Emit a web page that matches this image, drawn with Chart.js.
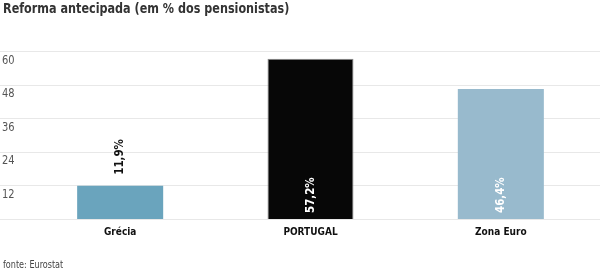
<!DOCTYPE html>
<html>
<head>
<meta charset="utf-8">
<script src="https://cdn.jsdelivr.net/npm/chart.js@4"></script>
<style>
html,body{margin:0;padding:0;background:#fff;}
#wrap{position:relative;width:600px;height:271px;}
</style>
</head>
<body>
<div id="wrap"><canvas id="c" width="600" height="271"></canvas></div>
<script>
const TITLE = "Reforma antecipada (em % dos pensionistas)";
const SOURCE = "fonte: Eurostat";
const categories = ["Grécia", "PORTUGAL", "Zona Euro"];
const values = [11.9, 57.2, 46.4];
const valueLabels = ["11,9%", "57,2%", "46,4%"];
const yTicks = [0, 12, 24, 36, 48, 60];
const colors = ["#6aa4bd", "#070707", "#98bacd"];

const FONT = "'DejaVu Sans Condensed', 'DejaVu Sans', sans-serif";

const custom = {
  id: 'custom',
  beforeDatasetsDraw(chart) {
    const ctx = chart.ctx;
    const y = chart.scales.y;
    ctx.save();
    ctx.strokeStyle = '#e8e8e8';
    ctx.lineWidth = 1;
    yTicks.forEach(v => {
      const py = Math.round(y.getPixelForValue(v)) + 0.5;
      ctx.beginPath();
      ctx.moveTo(0, py);
      ctx.lineTo(chart.width, py);
      ctx.stroke();
    });
    ctx.fillStyle = '#555';
    ctx.font = "12.5px " + FONT;
    ctx.textAlign = 'left';
    ctx.textBaseline = 'top';
    yTicks.forEach(v => {
      if (v === 0) return;
      const py = y.getPixelForValue(v);
      ctx.save();
      ctx.translate(2, py + 3);
      ctx.scale(0.88, 1);
      ctx.fillText(String(v), 0, 0);
      ctx.restore();
    });
    ctx.restore();
  },
  afterDatasetsDraw(chart) {
    const ctx = chart.ctx;
    const meta = chart.getDatasetMeta(0);
    ctx.save();
    ctx.font = "bold 12px " + FONT;
    meta.data.forEach((bar, i) => {
      const txt = valueLabels[i];
      const w = ctx.measureText(txt).width;
      const h = bar.base - bar.y;
      let startY, color;
      if (h > w + 16) {
        startY = bar.base - 6;
        color = '#ffffff';
      } else {
        startY = bar.y - 11;
        color = '#111111';
      }
      ctx.save();
      ctx.translate(bar.x, startY);
      ctx.rotate(-Math.PI / 2);
      ctx.scale(0.95, 1);
      ctx.fillStyle = color;
      ctx.textAlign = 'left';
      ctx.textBaseline = 'middle';
      ctx.fillText(txt, 0, 0);
      ctx.restore();
    });
    ctx.restore();
  },
  afterDraw(chart) {
    const ctx = chart.ctx;
    ctx.save();
    ctx.fillStyle = '#333';
    ctx.font = "bold 14px " + FONT;
    ctx.textAlign = 'left';
    ctx.textBaseline = 'middle';
    ctx.save();
    ctx.translate(3, 9);
    ctx.scale(0.89, 1);
    ctx.fillText(TITLE, 0, 0);
    ctx.restore();
    ctx.fillStyle = '#444';
    ctx.font = "10px " + FONT;
    ctx.save();
    ctx.translate(3, 265);
    ctx.scale(0.9, 1);
    ctx.fillText(SOURCE, 0, 0);
    ctx.restore();
    ctx.restore();
  }
};

new Chart(document.getElementById('c'), {
  type: 'bar',
  data: {
    labels: categories,
    datasets: [{
      data: values,
      backgroundColor: colors,
      borderColor: ['rgba(0,0,0,0)', '#8a8a8a', 'rgba(0,0,0,0)'],
      borderWidth: [0, 1, 0],
      categoryPercentage: 1,
      barPercentage: 0.452
    }]
  },
  options: {
    responsive: false,
    animation: false,
    devicePixelRatio: 1,
    layout: { padding: { top: 51, bottom: 32, left: 25, right: 4 } },
    plugins: { legend: { display: false }, tooltip: { enabled: false }, title: { display: false } },
    scales: {
      y: { display: false, min: 0, max: 60 },
      x: {
        grid: { display: false, drawTicks: false },
        border: { display: false },
        ticks: { color: '#111', padding: 7, maxRotation: 0, font: { family: FONT, size: 10, weight: 'bold' } },
        afterFit(scale) { scale.height = 20; }
      }
    }
  },
  plugins: [custom]
});
</script>
</body>
</html>
